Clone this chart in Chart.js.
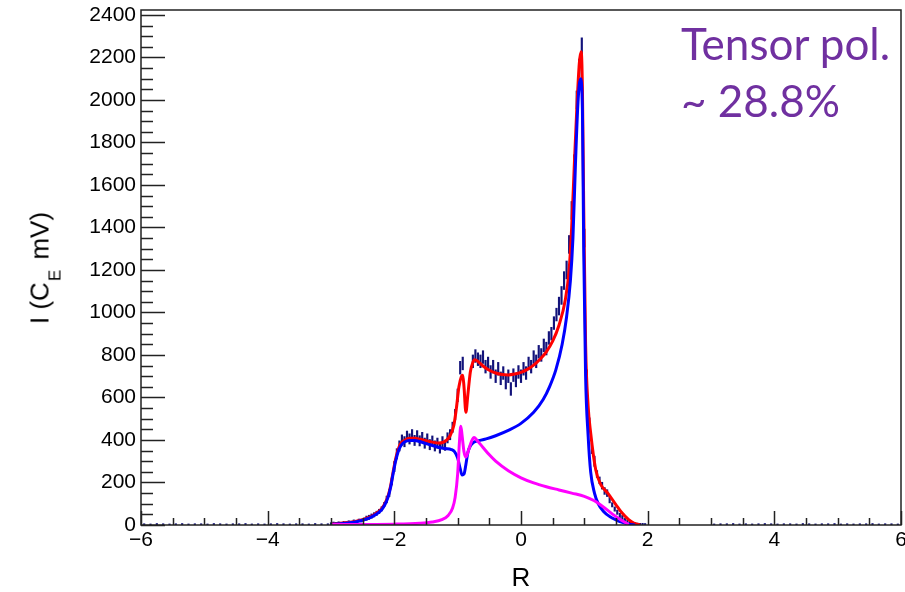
<!DOCTYPE html>
<html>
<head>
<meta charset="utf-8">
<script src="https://cdn.jsdelivr.net/npm/chart.js@4.4.1/dist/chart.umd.min.js"></script>
<style>
    body { margin: 0; background: #fff; }
    #wrap { position: relative; width: 905px; height: 592px; }
    #chart { position: absolute; left: 0; top: 0; }
    #ytitle {
        position: absolute; left: 40px; top: 268px;
        transform: translate(-50%, -50%) rotate(-90deg);
        font: 26px "Liberation Sans", Arial, sans-serif; color: #000; white-space: nowrap;
    }
    #ytitle sub { font-size: 17px; vertical-align: baseline; position: relative; top: 12px; margin: 0 3px 0 1px; }
    #xtitle {
        position: absolute; left: 521px; top: 577px; transform: translate(-50%, -50%);
        font: 26px "Liberation Sans", Arial, sans-serif; color: #000;
    }
    #note {
        position: absolute; left: 681px; top: 15px;
        font: 44px Lato, "Open Sans", sans-serif; line-height: 57px; color: #7030a0; white-space: nowrap;
    }
</style>
</head>
<body>
<div id="wrap">
    <canvas id="chart" width="905" height="592"></canvas>
    <div id="ytitle">I (C<sub>E</sub> mV)</div>
    <div id="xtitle">R</div>
    <div id="note">Tensor pol.<br>~ 28.8%</div>
</div>
<script>
// ticks
const xTicks = [-6, -4, -2, 0, 2, 4, 6];
const yTicks = [0, 200, 400, 600, 800, 1000, 1200, 1400, 1600, 1800, 2000, 2200, 2400];

// measured histogram: bins from -3.00 every 0.04 (null = no point)
const binStart = -3.0;
const binWidth = 0.04;
const dataI = [
    5, 8, 6, 9, 7, 11, 10, 14, 12, 18,
    16, 22, 20, 27, 32, 36, 42, 48, 55, 64,
    76, 96, 120, 150, 205, 275, 335, 372, 400, 392,
    418, 405, 425, 398, 420, 396, 412, 385, 405, 378,
    395, 372, 385, 362, 392, 375, 410, 425, 460, 520,
    610, 740, 760, null, null, null, 770, 795, 780, 770,
    790, 745, 760, 720, 745, 700, 735, 690, 715, 670,
    700, 640, 705, 680, 720, 700, 735, 715, 760, 745,
    790, 770, 815, 800, 845, 830, 880, 900, 950, 990,
    1030, 1080, 1150, 1200, 1320, 1480, 1700, 2000, 2150, 2250,
    1350, 700, 480, 360, 300, 240, 210, 185, 160, 150,
    120, 95, 75, 60, 45, 35, 25, 18, 12, 8,
    5, 3, 2, 2, 1
];
// half error bar by signal level: below errLevels[k] use errSizes[k]
const errLevels = [30, 100, 250, 600, 1000, Infinity];
const errSizes = [6, 10, 16, 24, 30, 42];

// near-zero tails, every 0.1
const tailLeftStart = -5.95;
const tailLeftI = [3, 2, 4, 3, 2, 3, 4, 2, 3, 3, 2, 4, 3, 2, 3, 3, 4, 2, 3, 2, 3, 4, 3, 2, 3, 3, 2, 4, 3, 3];
const tailRightStart = 3.05;
const tailRightI = [2, 3, 3, 4, 2, 3, 2, 3, 4, 3, 2, 3, 3, 2, 4, 3, 2, 3, 3, 4, 2, 3, 2, 3, 3, 4, 2, 3, 3, 2];
const tailErr = 3;

// fit total (red)
const redR = [-3.0, -2.8, -2.6, -2.4, -2.3, -2.2, -2.15, -2.1, -2.06, -2.02, -1.98, -1.94, -1.9, -1.84, -1.76, -1.68, -1.6, -1.5, -1.4, -1.3,
    -1.24, -1.18, -1.12, -1.06, -1.02, -0.98, -0.94, -0.92, -0.9, -0.87, -0.84, -0.8, -0.76, -0.73, -0.68, -0.6, -0.5, -0.4, -0.3, -0.2,
    -0.1, 0.0, 0.1, 0.2, 0.3, 0.4, 0.5, 0.6, 0.7, 0.76, 0.8, 0.84, 0.88, 0.92, 0.95, 0.97, 0.99, 1.02, 1.06, 1.1,
    1.18, 1.26, 1.37, 1.5, 1.58, 1.7, 1.78, 1.88];
const redI = [5, 9, 18, 36, 52, 77, 100, 136, 182, 248, 310, 355, 383, 398, 408, 408, 404, 396, 390, 386,
    388, 398, 420, 470, 550, 650, 700, 705, 650, 530, 610, 720, 765, 778, 770, 748, 728, 715, 708, 706,
    710, 718, 732, 752, 780, 815, 865, 940, 1060, 1200, 1400, 1680, 1950, 2170, 2226, 2050, 1500, 850, 560, 433,
    260, 190, 150, 95, 62, 25, 9, 0];

// component (blue)
const blueR = [-3.0, -2.8, -2.6, -2.4, -2.3, -2.2, -2.15, -2.1, -2.06, -2.02, -1.98, -1.94, -1.9, -1.84, -1.76, -1.68, -1.6, -1.5, -1.4, -1.3,
    -1.2, -1.1, -1.05, -1.0, -0.96, -0.93, -0.9, -0.87, -0.84, -0.8, -0.74, -0.65, -0.55, -0.4, -0.2, 0.0, 0.2, 0.35, 0.45, 0.55,
    0.65, 0.72, 0.78, 0.82, 0.86, 0.9, 0.94, 0.97, 0.99, 1.02, 1.06, 1.1, 1.16, 1.22, 1.3, 1.4, 1.5, 1.6, 1.7, 1.8];
const blueI = [3, 7, 15, 32, 48, 72, 95, 130, 175, 240, 300, 345, 372, 390, 398, 398, 393, 383, 374, 365,
    360, 355, 345, 315, 265, 235, 240, 285, 340, 372, 390, 398, 405, 420, 445, 478, 530, 590, 650, 730,
    850, 980, 1150, 1350, 1700, 1990, 2100, 1950, 1300, 700, 420, 250, 150, 100, 65, 40, 24, 12, 4, 0];

// component (magenta)
const magR = [-3.0, -2.0, -1.6, -1.4, -1.25, -1.15, -1.08, -1.04, -1.0, -0.97, -0.95, -0.93, -0.9, -0.87, -0.83, -0.78, -0.74, -0.7, -0.6, -0.5,
    -0.4, -0.2, 0.0, 0.2, 0.4, 0.6, 0.8, 1.0, 1.15, 1.3, 1.45, 1.58, 1.7];
const magI = [2, 4, 8, 14, 25, 45, 80, 130, 240, 400, 465, 420, 345, 320, 350, 395, 412, 400, 365, 330,
    300, 255, 222, 198, 180, 165, 150, 135, 115, 85, 50, 24, 2];

function points(xs, ys) {
    return xs.map((x, i) => ({x: x, y: ys[i]}));
}

function errFor(v) {
    const k = errLevels.findIndex(level => v < level);
    return errSizes[k];
}

// error bars as floating bars [low, high]
const errorBars = [];
dataI.forEach((v, i) => {
    if (v === null) return;
    const r = +(binStart + i * binWidth).toFixed(2);
    const e = errFor(v);
    errorBars.push({x: r, y: [Math.max(0, v - e), v + e]});
});
tailLeftI.forEach((v, i) => {
    errorBars.push({x: +(tailLeftStart + i * 0.1).toFixed(2), y: [Math.max(0, v - tailErr), v + tailErr]});
});
tailRightI.forEach((v, i) => {
    errorBars.push({x: +(tailRightStart + i * 0.1).toFixed(2), y: [Math.max(0, v - tailErr), v + tailErr]});
});

// frame and inside ticks like the ROOT canvas
const frameTicks = {
    id: 'frameTicks',
    afterDraw(chart) {
        const {ctx, chartArea: a, scales: {x, y}} = chart;
        ctx.save();
        ctx.strokeStyle = '#222';
        ctx.lineWidth = 1.5;
        ctx.strokeRect(a.left, a.top, a.right - a.left, a.bottom - a.top);
        ctx.beginPath();
        for (let k = 0; k <= 24; k++) {
            const v = -6 + k * 0.5;
            const px = Math.round(x.getPixelForValue(v)) + 0.5;
            const len = k % 4 === 0 ? 14 : 7;
            ctx.moveTo(px, a.bottom);
            ctx.lineTo(px, a.bottom - len);
        }
        for (let k = 0; k <= 48; k++) {
            const py = Math.round(y.getPixelForValue(k * 50)) + 0.5;
            const len = k % 4 === 0 ? 24 : 12;
            ctx.moveTo(a.left, py);
            ctx.lineTo(a.left + len, py);
        }
        ctx.stroke();
        ctx.restore();
    }
};

const tickFont = {family: '"Liberation Sans", Arial, sans-serif', size: 21};

new Chart(document.getElementById('chart'), {
    type: 'line',
    data: {
        datasets: [
            {
                label: 'Magenta',
                data: points(magR, magI),
                borderColor: '#ff00ff',
                borderWidth: 3,
                pointRadius: 0,
                cubicInterpolationMode: 'monotone',
                order: 0
            },
            {
                label: 'Blue',
                data: points(blueR, blueI),
                borderColor: '#0000ff',
                borderWidth: 3,
                pointRadius: 0,
                cubicInterpolationMode: 'monotone',
                order: 1
            },
            {
                label: 'Fit',
                data: points(redR, redI),
                borderColor: '#ff0000',
                borderWidth: 3,
                pointRadius: 0,
                cubicInterpolationMode: 'monotone',
                order: 2
            },
            {
                type: 'bar',
                label: 'Data',
                data: errorBars,
                backgroundColor: '#12127a',
                barThickness: 1.5,
                grouped: false,
                order: 3
            }
        ]
    },
    options: {
        responsive: false,
        animation: false,
        layout: {padding: {top: 10, right: 4, left: 0, bottom: 0}},
        plugins: {
            legend: {display: false},
            tooltip: {enabled: false}
        },
        scales: {
            x: {
                type: 'linear',
                min: -6,
                max: 6,
                offset: false,
                grid: {display: false, drawTicks: false},
                border: {display: false},
                afterBuildTicks: s => { s.ticks = xTicks.map(v => ({value: v})); },
                afterFit: s => { s.height = 67; s.paddingLeft = 0; s.paddingRight = 0; },
                ticks: {
                    font: tickFont,
                    color: '#000',
                    padding: 3,
                    maxRotation: 0,
                    autoSkip: false,
                    callback: v => (v < 0 ? '\u2212' + Math.abs(v) : '' + v)
                }
            },
            y: {
                min: 0,
                max: 2423,
                grid: {display: false, drawTicks: false},
                border: {display: false},
                afterBuildTicks: s => { s.ticks = yTicks.map(v => ({value: v})); },
                afterFit: s => { s.width = 141; s.paddingTop = 0; s.paddingBottom = 0; },
                ticks: {
                    font: tickFont,
                    color: '#000',
                    padding: 5,
                    autoSkip: false,
                    callback: v => '' + v
                }
            }
        }
    },
    plugins: [frameTicks]
});
</script>
</body>
</html>
